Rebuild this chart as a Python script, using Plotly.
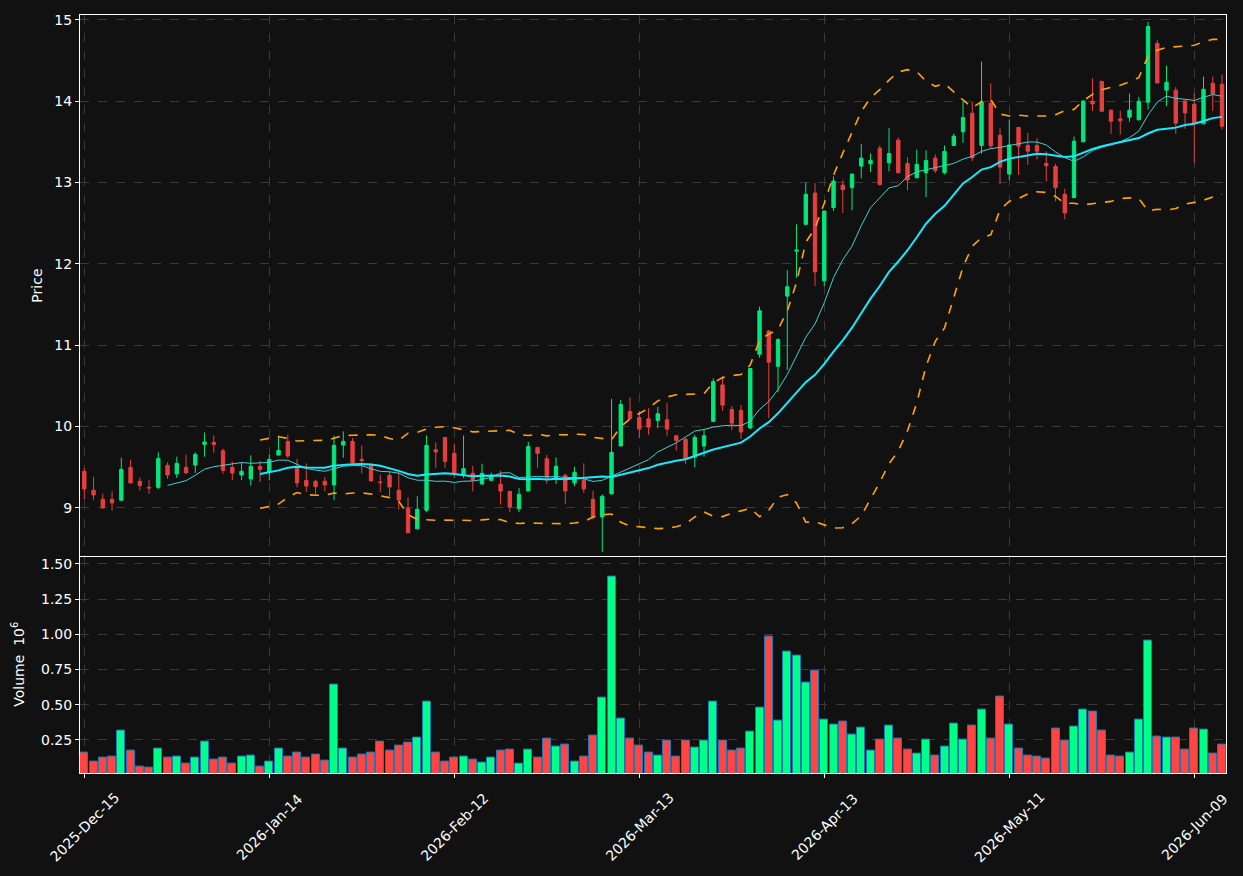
import plotly.graph_objects as go
import pandas as pd

# ---------------- data ----------------
opens = [9.448, 9.215, 9.104, 9.104, 9.092, 9.497, 9.325, 9.251, 9.251, 9.521,
         9.415, 9.497, 9.525, 9.779, 9.804, 9.701, 9.497, 9.403, 9.354, 9.509,
         9.440, 9.648, 9.816, 9.485, 9.337, 9.325, 9.325, 9.280, 9.771, 9.816,
         9.595, 9.521, 9.317, 9.399, 9.215, 8.994, 8.740, 8.969, 9.714, 9.865,
         9.669, 9.415, 9.423, 9.292, 9.337, 9.288, 9.202, 8.986, 9.206, 9.742,
         9.603, 9.366, 9.399, 9.305, 9.337, 9.104, 8.887, 9.170, 9.759, 10.184,
         10.111, 10.094, 10.074, 10.082, 9.886, 9.841, 9.624, 9.759, 10.062, 10.511,
         10.209, 10.197, 9.980, 10.888, 11.174, 10.740, 11.603, 12.156, 12.487, 12.871,
         11.792, 12.691, 12.969, 12.937, 13.203, 13.231, 13.423, 13.243, 13.522, 13.235,
         13.059, 13.121, 13.301, 13.121, 13.456, 13.624, 13.853, 13.456, 13.976, 13.581,
         13.104, 13.677, 13.456, 13.456, 13.235, 13.198, 12.855, 12.814, 13.501, 14.000,
         14.245, 13.890, 13.783, 13.804, 13.771, 13.988, 14.712, 14.135, 14.135, 14.004,
         13.963, 13.722, 14.221, 14.209]
highs = [9.489, 9.382, 9.174, 9.202, 9.615, 9.591, 9.370, 9.345, 9.681, 9.558,
         9.628, 9.652, 9.681, 9.926, 9.889, 9.726, 9.566, 9.558, 9.644, 9.579,
         9.652, 9.889, 9.898, 9.603, 9.546, 9.345, 9.378, 9.889, 9.939, 9.857,
         9.767, 9.550, 9.407, 9.448, 9.440, 9.129, 9.141, 9.889, 9.804, 9.865,
         9.791, 9.889, 9.517, 9.542, 9.431, 9.456, 9.202, 9.243, 9.812, 9.750,
         9.652, 9.619, 9.419, 9.505, 9.546, 9.210, 9.161, 10.339, 10.327, 10.356,
         10.192, 10.225, 10.241, 10.291, 9.886, 9.857, 9.898, 9.967, 10.593, 10.614,
         10.250, 10.266, 10.712, 11.473, 11.186, 11.084, 11.922, 12.487, 12.998, 12.994,
         12.650, 13.076, 13.027, 13.104, 13.477, 13.358, 13.456, 13.669, 13.554, 13.313,
         13.407, 13.395, 13.346, 13.456, 13.603, 13.996, 13.996, 14.487, 14.221, 13.669,
         13.775, 13.677, 13.611, 13.546, 13.382, 13.231, 12.924, 13.566, 14.004, 14.282,
         14.245, 13.898, 13.885, 14.094, 14.053, 14.977, 14.753, 14.438, 14.176, 14.004,
         14.098, 14.303, 14.303, 14.331]
lows = [9.100, 9.100, 8.990, 8.965, 9.090, 9.300, 9.210, 9.170, 9.231, 9.354,
        9.366, 9.427, 9.427, 9.628, 9.677, 9.419, 9.341, 9.341, 9.272, 9.317,
        9.337, 9.648, 9.611, 9.251, 9.194, 9.161, 9.202, 9.092, 9.615, 9.530,
        9.419, 9.329, 9.194, 9.141, 8.977, 8.691, 8.740, 8.945, 9.489, 9.489,
        9.366, 9.366, 9.202, 9.284, 9.337, 9.039, 8.945, 8.945, 9.206, 9.489,
        9.296, 9.292, 9.047, 9.264, 9.182, 8.855, 8.454, 9.170, 9.759, 10.098,
        9.857, 9.898, 9.980, 9.886, 9.702, 9.538, 9.497, 9.628, 10.053, 10.192,
        9.955, 9.845, 9.972, 10.847, 10.102, 10.421, 10.695, 11.828, 12.475, 11.726,
        11.726, 12.650, 12.626, 12.659, 13.051, 13.129, 12.965, 13.137, 13.113, 12.904,
        13.051, 12.822, 13.117, 13.100, 13.456, 13.489, 13.264, 13.354, 13.411, 12.986,
        13.030, 13.096, 13.219, 13.284, 13.014, 12.769, 12.548, 12.814, 13.501, 13.881,
        13.877, 13.599, 13.591, 13.750, 13.771, 13.898, 14.225, 13.939, 13.599, 13.661,
        13.243, 13.722, 13.881, 13.652]
closes = [9.231, 9.157, 8.998, 9.059, 9.472, 9.305, 9.272, 9.243, 9.607, 9.403,
          9.546, 9.427, 9.656, 9.808, 9.779, 9.460, 9.427, 9.448, 9.509, 9.472,
          9.595, 9.705, 9.636, 9.305, 9.268, 9.260, 9.280, 9.767, 9.816, 9.554,
          9.583, 9.329, 9.309, 9.255, 9.096, 8.691, 8.981, 9.767, 9.685, 9.570,
          9.427, 9.480, 9.337, 9.423, 9.399, 9.206, 9.006, 9.165, 9.754, 9.669,
          9.370, 9.509, 9.206, 9.435, 9.231, 8.891, 9.141, 9.681, 10.270, 10.098,
          9.967, 9.992, 10.156, 9.967, 9.828, 9.603, 9.865, 9.886, 10.552, 10.262,
          10.041, 9.931, 10.712, 11.423, 10.790, 11.068, 11.718, 12.168, 12.855, 11.902,
          12.650, 13.019, 12.912, 13.104, 13.301, 13.272, 12.974, 13.358, 13.121, 13.031,
          13.223, 13.272, 13.149, 13.383, 13.571, 13.800, 13.305, 13.988, 13.452, 13.190,
          13.462, 13.448, 13.386, 13.386, 13.207, 12.937, 12.626, 13.509, 14.004, 13.967,
          13.877, 13.755, 13.759, 13.890, 14.000, 14.920, 14.225, 14.233, 13.730, 13.857,
          13.730, 14.147, 14.090, 13.693]
volumes = [0.162, 0.096, 0.127, 0.134, 0.318, 0.170, 0.063, 0.056, 0.191, 0.127,
           0.134, 0.078, 0.127, 0.240, 0.106, 0.120, 0.078, 0.134, 0.141, 0.063,
           0.092, 0.184, 0.134, 0.162, 0.120, 0.148, 0.099, 0.644, 0.191, 0.127,
           0.148, 0.162, 0.240, 0.170, 0.212, 0.233, 0.269, 0.523, 0.162, 0.092,
           0.127, 0.134, 0.106, 0.085, 0.127, 0.170, 0.177, 0.078, 0.177, 0.127,
           0.262, 0.205, 0.219, 0.092, 0.134, 0.283, 0.552, 1.408, 0.403, 0.262,
           0.212, 0.162, 0.141, 0.247, 0.134, 0.247, 0.198, 0.247, 0.523, 0.247,
           0.170, 0.191, 0.311, 0.481, 0.983, 0.389, 0.877, 0.849, 0.658, 0.743,
           0.396, 0.361, 0.382, 0.290, 0.339, 0.170, 0.255, 0.354, 0.262, 0.177,
           0.155, 0.255, 0.141, 0.205, 0.368, 0.255, 0.354, 0.467, 0.262, 0.559,
           0.361, 0.191, 0.141, 0.134, 0.113, 0.332, 0.247, 0.346, 0.467, 0.453,
           0.318, 0.141, 0.134, 0.162, 0.396, 0.955, 0.276, 0.269, 0.269, 0.177,
           0.332, 0.325, 0.155, 0.219]  # in millions
tick_labels = ['2025-Dec-15', '2026-Jan-14', '2026-Feb-12', '2026-Mar-13',
               '2026-Apr-13', '2026-May-11', '2026-Jun-09']
tick_step = 20
price_ticks = [9, 10, 11, 12, 13, 14, 15]
volume_ticks = [0.25, 0.50, 0.75, 1.00, 1.25, 1.50]

# ---------------- derived series ----------------
x = list(range(len(closes)))
s = pd.Series(closes)
ma10 = s.rolling(10).mean()
ma20 = s.rolling(20).mean()
sd20 = s.rolling(20).std(ddof=0)
bb_up = ma20 + 2 * sd20
bb_lo = ma20 - 2 * sd20

UP_C = '#02e77c'
DN_C = '#e73f3f'
VUP_C = '#00ff88'
VDN_C = '#ff4444'
vol_colors = [VUP_C if c >= o else VDN_C for o, c in zip(opens, closes)]

BG = '#111111'
GRID = '#3a3a3a'
FONT = dict(family='DejaVu Sans', size=14, color='#ffffff')

fig = go.Figure()
fig.add_trace(go.Candlestick(
    x=x, open=opens, high=highs, low=lows, close=closes,
    increasing=dict(line=dict(color=UP_C, width=1), fillcolor=UP_C),
    decreasing=dict(line=dict(color=DN_C, width=1), fillcolor=DN_C),
    whiskerwidth=0, xaxis='x', yaxis='y', showlegend=False, name='price'))
fig.add_trace(go.Scatter(x=x, y=ma10, mode='lines', line=dict(color='#45cfcc', width=1),
                         xaxis='x', yaxis='y', showlegend=False, name='MA10'))
fig.add_trace(go.Scatter(x=x, y=ma20, mode='lines', line=dict(color='#18eaff', width=2),
                         xaxis='x', yaxis='y', showlegend=False, name='MA20'))
fig.add_trace(go.Scatter(x=x, y=bb_up, mode='lines', line=dict(color='#ffa500', width=1.6, dash='dash'),
                         xaxis='x', yaxis='y', showlegend=False, name='BB up'))
fig.add_trace(go.Scatter(x=x, y=bb_lo, mode='lines', line=dict(color='#ffa500', width=1.6, dash='dash'),
                         xaxis='x', yaxis='y', showlegend=False, name='BB low'))
fig.add_trace(go.Bar(x=x, y=volumes, width=0.86,
                     marker=dict(color=vol_colors, line=dict(color='#1f77b4', width=1)),
                     xaxis='x2', yaxis='y2', showlegend=False, name='Volume'))

xr = [-0.465, 123.43]
tickvals_x = [i * tick_step for i in range(len(tick_labels))]
axis_common = dict(showline=True, mirror=True, linecolor='#ffffff', linewidth=1,
                   showgrid=True, gridcolor=GRID, griddash='dash', gridwidth=1,
                   zeroline=False, tickfont=FONT, tickcolor='#ffffff', ticklen=4)

fig.update_layout(
    width=1243, height=876,
    paper_bgcolor=BG, plot_bgcolor=BG,
    margin=dict(l=80, r=17, t=13, b=103),
    boxgap=0.48,
    bargap=0,
    font=FONT,
    xaxis=dict(domain=[0, 1], anchor='y', range=xr, tickvals=tickvals_x,
               showticklabels=False, ticks='', rangeslider=dict(visible=False), **axis_common),
    yaxis=dict(domain=[0.2868, 1], anchor='x', range=[8.411, 15.061], tickvals=price_ticks,
               ticks='outside', **axis_common),
    xaxis2=dict(domain=[0, 1], anchor='y2', range=xr, tickvals=tickvals_x, matches='x',
                showticklabels=False, ticks='outside', **axis_common),
    yaxis2=dict(domain=[0, 0.2855], anchor='x2', range=[0.014, 1.552], tickvals=volume_ticks,
                ticktext=[f'{v:.2f}' for v in volume_ticks], ticks='outside', **axis_common),
)

annotations = []
for i, lab in enumerate(tick_labels):
    annotations.append(dict(x=i * tick_step, xref='x2', y=-0.0707, yref='paper',
                            text=lab, textangle=-45, showarrow=False,
                            xanchor='center', yanchor='middle', font=FONT))
annotations.append(dict(x=-0.0375, xref='paper', y=0.643, yref='paper', text='Price',
                        textangle=-90, showarrow=False, xanchor='center', yanchor='middle', font=FONT))
annotations.append(dict(x=-0.0541, xref='paper', y=0.1428, yref='paper',
                        text='Volume  10<sup>6</sup>', textangle=-90, showarrow=False,
                        xanchor='center', yanchor='middle', font=FONT))
fig.update_layout(annotations=annotations)

fig.write_html('out.html')
